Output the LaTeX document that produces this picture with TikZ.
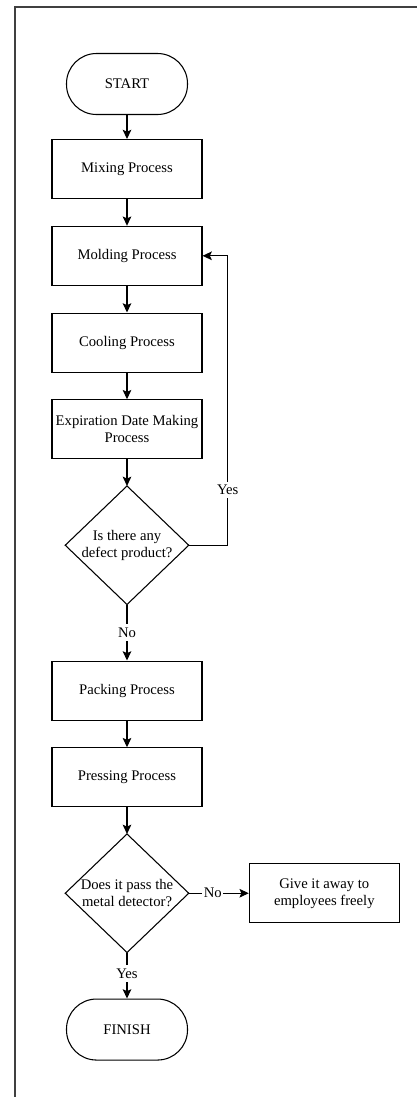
\documentclass[tikz,border=0pt]{standalone}
\usepackage{fontspec}
\setmainfont{Liberation Serif}
\usepackage{tikz}
\usetikzlibrary{arrows.meta,positioning}

\begin{document}
\begin{tikzpicture}[x=0.75pt, y=-0.75pt,
every node/.style={font=\fontsize{11}{12.75}\selectfont, align=center, inner sep=0pt},
process/.style={draw, line width=0.8pt, minimum width=112.5pt, minimum height=44.25pt},
terminal/.style={draw, line width=0.8pt, rounded corners=22.5pt, minimum width=90.75pt, minimum height=45.75pt},
decision/.style={minimum width=92.25pt, minimum height=88.5pt},
flow/.style={-{Stealth[length=7pt, width=6.5pt, inset=1.5pt]}, line width=0.8pt},
answer/.style={fill=white, inner xsep=1pt, inner ysep=2.5pt}]
\def\dist{20pt}
\useasboundingbox (0,0) rectangle (417,1097);
%edge of the page
\draw[line width=1pt, black!75] (417,7) -- (15,7) -- (15,1097);

\node[terminal] (start) at (127,84) {START};
\node[process, below=18pt of start] (mixing) {Mixing Process};
\node[process, below=\dist of mixing] (molding) {Molding Process};
\node[process, below=\dist of molding] (cooling) {Cooling Process};
\node[process, below=\dist of cooling] (expiration) {Expiration Date Making\\Process};
\node[decision, below=\dist of expiration] (defect) {Is there any\\defect product?};
\node[process, below=42pt of defect] (packing) {Packing Process};
\node[process, below=\dist of packing] (pressing) {Pressing Process};
\node[decision, below=\dist of pressing] (detector) {Does it pass the\\metal detector?};
\node[process, right=45pt of detector] (giveaway) {Give it away to\\employees freely};
\node[terminal, below=34.5pt of detector] (finish) {FINISH};

%draw a diamond round each decision
\foreach \x in {defect,detector}{
	\draw[line width=0.8pt] (\x.north) -- (\x.east) -- (\x.south) -- (\x.west) -- cycle;
}

%straight connectors down the chart
\foreach \a/\b in {start/mixing,mixing/molding,molding/cooling,cooling/expiration,expiration/defect,packing/pressing,pressing/detector}{
	\draw[flow] (\a) -- (\b);
}

%answers of the decisions
\coordinate (turn) at ([xshift=29.25pt]defect.east);
\draw[flow] (defect.east) -- (turn) -- node[answer, pos=0.19] (yes1) {Yes} (turn |- molding.east) -- (molding.east);
\draw[flow] (defect) -- node[answer] (no1) {No} (packing);
\draw[flow] (detector) -- node[answer, pos=0.4] (no2) {No} (giveaway);
\draw[flow] (detector) -- node[answer, pos=0.46] (yes2) {Yes} (finish);
\end{tikzpicture}
\end{document}
